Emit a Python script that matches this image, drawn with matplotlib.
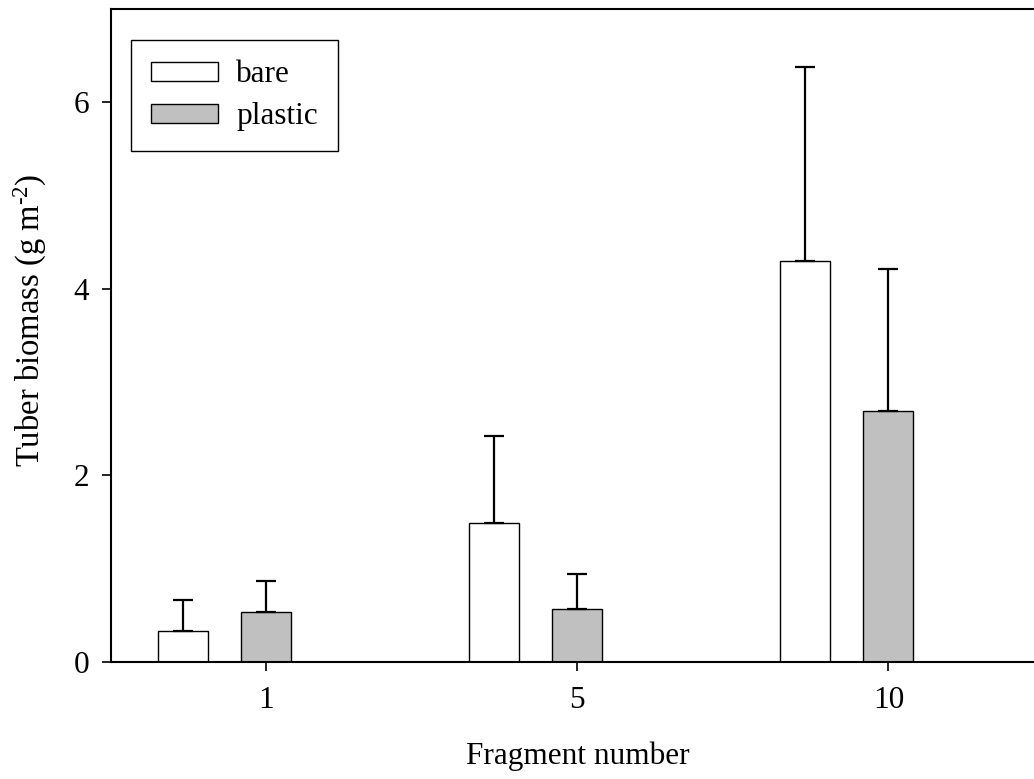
import matplotlib
matplotlib.use('Agg')
import matplotlib.pyplot as plt
import numpy as np

# Tuber biomass by fragment number, mean + upper error bar
fragments = ['1', '5', '10']
bare = [0.33, 1.49, 4.30]
bare_err = [0.33, 0.93, 2.08]
plastic = [0.53, 0.56, 2.69]
plastic_err = [0.34, 0.38, 1.52]

FS = 22.5
plt.rcParams['font.family'] = ['Liberation Serif', 'DejaVu Serif']
plt.rcParams['mathtext.fontset'] = 'custom'
plt.rcParams['mathtext.rm'] = 'Liberation Serif'
plt.rcParams['mathtext.it'] = 'Liberation Serif:italic'
plt.rcParams['font.size'] = FS

fig = plt.figure(figsize=(10.34, 7.79), dpi=100)
ax = fig.add_axes([0.1073, 0.1506, 0.9023, 0.8375])

x = np.arange(len(fragments))
width = 0.161
offset = 0.267
err_kw = dict(ecolor='black', elinewidth=1.6, capsize=7.5, capthick=1.6)

ax.bar(x - offset, bare, width, color='white', edgecolor='black', linewidth=1.0,
       yerr=[np.zeros(len(bare)), bare_err], error_kw=err_kw, label='bare', zorder=2)
ax.bar(x, plastic, width, color='#c0c0c0', edgecolor='black', linewidth=1.0,
       yerr=[np.zeros(len(plastic)), plastic_err], error_kw=err_kw, label='plastic', zorder=2)

ax.set_xlim(-0.5, 2.5)
ax.set_ylim(0, 7)
ax.set_xticks(x)
ax.set_xticklabels(fragments)
ax.set_yticks([0, 2, 4, 6])

ax.spines['right'].set_visible(False)
for s in ['left', 'bottom', 'top']:
    ax.spines[s].set_linewidth(1.5)
ax.tick_params(axis='both', direction='out', length=6.5, width=1.2, labelsize=FS)
ax.tick_params(axis='x', pad=11)
ax.tick_params(axis='y', pad=9)

ax.set_xlabel('Fragment number', fontsize=FS, labelpad=19)
ax.set_ylabel('Tuber biomass (g m$^{\\mathrm{\u2010}2}$)', fontsize=23.5)
ax.yaxis.set_label_coords(-0.066, 0.524)

leg = ax.legend(loc='upper left', bbox_to_anchor=(0.0214, 0.9525), borderaxespad=0,
                fancybox=False, framealpha=1, edgecolor='black', fontsize=FS,
                handlelength=2.15, handleheight=0.58, handletextpad=0.58,
                labelspacing=0.42, borderpad=0.64)
leg.get_frame().set_linewidth(1.0)

plt.savefig('out.png', dpi=100)
